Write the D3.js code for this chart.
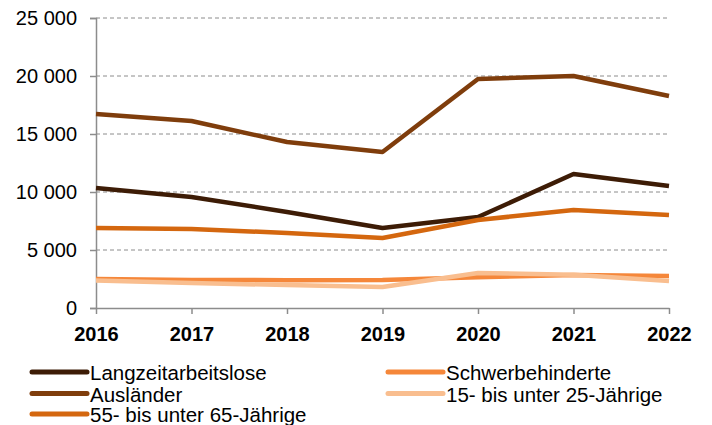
<!DOCTYPE html>
<html lang="de">
<head>
<meta charset="UTF-8">
<title>Arbeitslose nach Personengruppen</title>
<script src="https://cdn.jsdelivr.net/npm/d3@7"></script>
<style>
  body { margin: 0; background: #fff; }
  svg { display: block; font-family: "Liberation Sans", Arial, sans-serif; }
</style>
</head>
<body>
<div id="grafica"></div>
<script>
// Daten
const jahre = [2016, 2017, 2018, 2019, 2020, 2021, 2022]
const langzeit      = [10350, 9570, 8280, 6900, 7840, 11550, 10520]
const auslaender    = [16720, 16120, 14310, 13450, 19740, 20000, 18280]
const schwerbeh     = [2500, 2420, 2400, 2420, 2650, 2840, 2760]
const jugendliche   = [2380, 2150, 1980, 1810, 3020, 2860, 2330]
const aeltere       = [6900, 6810, 6470, 6030, 7590, 8450, 8020]
const yTicks = [0, 5000, 10000, 15000, 20000, 25000]

const serien = [
  { name: 'Langzeitarbeitslose', werte: langzeit, farbe: '#3d1c06', col: 0, row: 0 },
  { name: 'Ausländer', werte: auslaender, farbe: '#7f3d0c', col: 0, row: 1 },
  { name: 'Schwerbehinderte', werte: schwerbeh, farbe: '#f5873a', col: 1, row: 0 },
  { name: '15- bis unter 25-Jährige', werte: jugendliche, farbe: '#f9be8f', col: 1, row: 1 },
  { name: '55- bis unter 65-Jährige', werte: aeltere, farbe: '#d4670f', col: 0, row: 2 }
]

const ancho_total = 712, alto_total = 425
const margin = { left: 96, right: 43, top: 18, bottom: 117 }
const ancho = ancho_total - margin.left - margin.right
const alto = alto_total - margin.top - margin.bottom

const svg = d3.select('#grafica').append('svg')
  .attr('width', ancho_total)
  .attr('height', alto_total)

const g = svg.append('g')
  .attr('transform', `translate(${margin.left},${margin.top})`)

const x = d3.scalePoint().domain(jahre).range([0, ancho])
const y = d3.scaleLinear().domain([0, 25000]).range([alto, 0])

const fmt = v => d3.format(',')(v).replace(',', ' ')

// Gitterlinien
g.selectAll('.grid').data(yTicks.filter(t => t > 0)).enter()
  .append('line')
  .attr('x1', 0).attr('x2', ancho)
  .attr('y1', d => y(d)).attr('y2', d => y(d))
  .attr('stroke', '#8c8c8c')
  .attr('stroke-width', 1)
  .attr('stroke-dasharray', '4,3')

// Achsen
const yAxis = g.append('g')
  .call(d3.axisLeft(y).tickValues(yTicks).tickFormat(fmt).tickSize(6).tickPadding(13))
yAxis.select('.domain').attr('stroke', '#8c8c8c').attr('stroke-width', 1.5)
yAxis.selectAll('.tick line').attr('stroke', '#8c8c8c').attr('stroke-width', 1.5)
yAxis.selectAll('.tick text').attr('font-size', 20).attr('fill', '#000')
  .attr('font-family', '"Liberation Sans", Arial, sans-serif')

const xAxis = g.append('g')
  .attr('transform', `translate(0,${alto})`)
  .call(d3.axisBottom(x).tickSize(6).tickSizeOuter(0).tickPadding(13))
xAxis.select('.domain').attr('stroke', '#8c8c8c').attr('stroke-width', 1.5)
xAxis.selectAll('.tick line').attr('stroke', '#8c8c8c').attr('stroke-width', 1.5)
xAxis.selectAll('.tick text').attr('font-size', 20).attr('font-weight', 'bold').attr('fill', '#000')
  .attr('font-family', '"Liberation Sans", Arial, sans-serif')

// Linien
const linea = d3.line()
  .x((d, i) => x(jahre[i]))
  .y(d => y(d))

g.selectAll('.serie').data(serien).enter()
  .append('path')
  .attr('fill', 'none')
  .attr('stroke', d => d.farbe)
  .attr('stroke-width', 4.5)
  .attr('stroke-linejoin', 'round')
  .attr('d', d => linea(d.werte))

// Legende
const legX = [32, 388], legY = [372, 393.5, 414]
const leg = svg.selectAll('.leg').data(serien).enter()
  .append('g')
  .attr('transform', d => `translate(${legX[d.col]},${legY[d.row]})`)
leg.append('line')
  .attr('x1', 0).attr('x2', 55)
  .attr('stroke', d => d.farbe)
  .attr('stroke-width', 5)
  .attr('stroke-linecap', 'round')
leg.append('text')
  .attr('x', 58)
  .attr('y', 8)
  .attr('font-size', 20.5)
  .attr('fill', '#000')
  .text(d => d.name)
</script>
</body>
</html>
